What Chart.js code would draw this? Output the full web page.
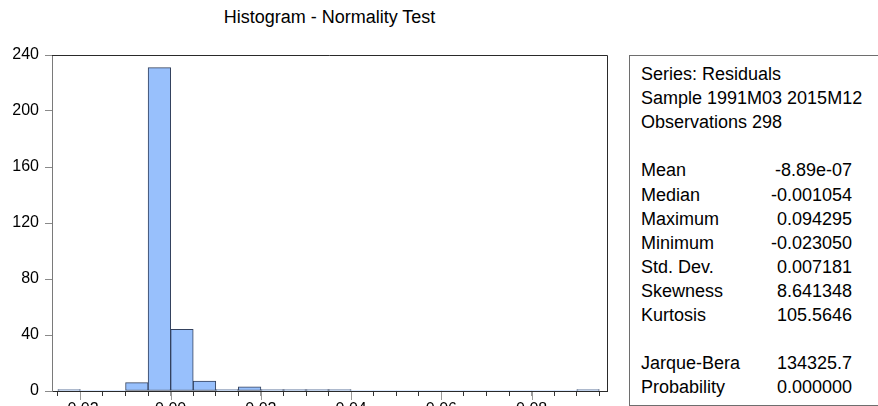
<!DOCTYPE html>
<html>
<head>
<meta charset="utf-8">
<script src="https://cdn.jsdelivr.net/npm/chart.js@4"></script>
<style>
  html, body { margin:0; padding:0; width:878px; height:406px; overflow:hidden; background:#fff; }
  #wrap { position:absolute; left:0; top:0; width:620px; height:440px; }
  #title { position:absolute; left:52px; width:555px; top:6px; text-align:center;
           font: 18px "Liberation Sans", Arial, sans-serif; color:#000; line-height:22px; }
  #stats { position:absolute; left:629px; top:55px; width:270px; height:349px;
           border:1px solid #6e6e6e; border-right:none;
           font: 18px "Liberation Sans", Arial, sans-serif; color:#000; }
  #stats .row { position:absolute; left:11px; width:211px; height:24px; line-height:24px; white-space:nowrap; }
  #stats .val { position:absolute; right:0; top:0; }
</style>
</head>
<body>
<div id="title"></div>
<div id="wrap"><canvas id="c" width="620" height="440"></canvas></div>
<div id="stats"></div>
<script>
// ---- data ----
const titleText = "Histogram - Normality Test";
const binLower = [-0.025,-0.020,-0.015,-0.010,-0.005,0.000,0.005,0.010,0.015,0.020,0.025,0.030,
                  0.035,0.040,0.045,0.050,0.055,0.060,0.065,0.070,0.075,0.080,0.085,0.090];
const counts   = [1,0,0,6,231,44,7,1,3,1,1,1,
                  1,0,0,0,0,0,0,0,0,0,0,1];
const xTickLabels = ["-0.02","0.00","0.02","0.04","0.06","0.08"];
const yTickValues = [0,40,80,120,160,200,240];
const headerLines = ["Series: Residuals","Sample 1991M03 2015M12","Observations 298"];
const statNames  = ["Mean","Median","Maximum","Minimum","Std. Dev.","Skewness","Kurtosis"];
const statValues = ["-8.89e-07","-0.001054","0.094295","-0.023050","0.007181","8.641348","105.5646"];
const testNames  = ["Jarque-Bera","Probability"];
const testValues = ["134325.7","0.000000"];

// ---- title & stats panel (real text) ----
document.getElementById('title').textContent = titleText;
const stats = document.getElementById('stats');
const lineH = 24.1, firstTop = 6;
function addRow(i, label, value) {
  const r = document.createElement('div');
  r.className = 'row';
  r.style.top = (firstTop + i * lineH) + 'px';
  r.textContent = label;
  if (value !== undefined) {
    const v = document.createElement('span');
    v.className = 'val';
    v.textContent = value;
    r.appendChild(v);
  }
  stats.appendChild(r);
}
let li = 0;
headerLines.forEach(h => addRow(li++, h));
li++;
statNames.forEach((n, k) => addRow(li++, n, statValues[k]));
li++;
testNames.forEach((n, k) => addRow(li++, n, testValues[k]));

// ---- chart ----
const binWidth = binLower[1] - binLower[0];
const points = binLower.map((lo, i) => ({ x: lo + binWidth / 2, y: counts[i] }));
const isMajor = v => Math.abs(v / 0.02 - Math.round(v / 0.02)) < 1e-6;
const fmt = v => { const r = Math.round(v * 100) / 100; return (r === 0 ? 0 : r).toFixed(2); };

const framePlugin = {
  id: 'frame',
  afterDraw(chart) {
    const { ctx, chartArea: a, scales } = chart;
    ctx.save();
    ctx.lineWidth = 1;
    ctx.strokeStyle = '#2a2a2a';
    ctx.beginPath();
    ctx.moveTo(a.left, a.top + 0.5); ctx.lineTo(a.right + 0.5, a.top + 0.5);
    ctx.lineTo(a.right + 0.5, a.bottom);
    ctx.stroke();
    // longer major ticks on x axis
    ctx.strokeStyle = '#9a9a9a';
    ctx.beginPath();
    scales.x.ticks.forEach(t => {
      if (isMajor(t.value)) {
        const px = Math.round(scales.x.getPixelForValue(t.value)) + 0.5;
        ctx.moveTo(px, a.bottom + 1); ctx.lineTo(px, a.bottom + 9);
      }
    });
    ctx.stroke();
    ctx.restore();
  }
};

new Chart(document.getElementById('c'), {
  type: 'bar',
  data: {
    datasets: [{
      data: points,
      backgroundColor: '#98c0fc',
      borderColor: '#34425e',
      borderWidth: c => (c.raw && c.raw.y > 0 ? 1 : 0),
      borderSkipped: false,
      barPercentage: 1,
      categoryPercentage: 1,
      grouped: false
    }]
  },
  options: {
    responsive: false,
    animation: false,
    devicePixelRatio: 1,
    layout: { padding: { top: 55, right: 13, left: 0, bottom: 0 } },
    plugins: { legend: { display: false }, tooltip: { enabled: false }, title: { display: false } },
    scales: {
      x: {
        type: 'linear',
        offset: false,
        min: -0.0263,
        max: 0.0967,
        afterFit: s => { s.height = 49; },
        grid: { offset: false, drawOnChartArea: false, drawTicks: true, tickLength: 5,
                color: c => (c.tick && isMajor(c.tick.value) ? '#9a9a9a' : '#333') },
        border: { display: true, color: '#2a2a2a', width: 1 },
        ticks: {
          stepSize: 0.005,
          includeBounds: false,
          autoSkip: false,
          maxRotation: 0,
          padding: 4,
          color: '#000',
          font: { family: '"Liberation Sans", Arial, sans-serif', size: 16 },
          callback: v => {
            if (!isMajor(v)) return '';
            const s = fmt(v);
            return xTickLabels.includes(s) ? s : '';
          }
        }
      },
      y: {
        min: 0,
        max: 240,
        afterFit: s => { s.width = 52; },
        afterBuildTicks: s => { s.ticks = yTickValues.map(v => ({ value: v })); },
        grid: { drawOnChartArea: false, drawTicks: true, tickLength: 7, color: '#8a8a8a' },
        border: { display: true, color: '#7a7a7a', width: 1 },
        ticks: {
          padding: 6,
          color: '#000',
          font: { family: '"Liberation Sans", Arial, sans-serif', size: 16 },
          callback: v => String(v)
        }
      }
    }
  },
  plugins: [framePlugin]
});
</script>
</body>
</html>
